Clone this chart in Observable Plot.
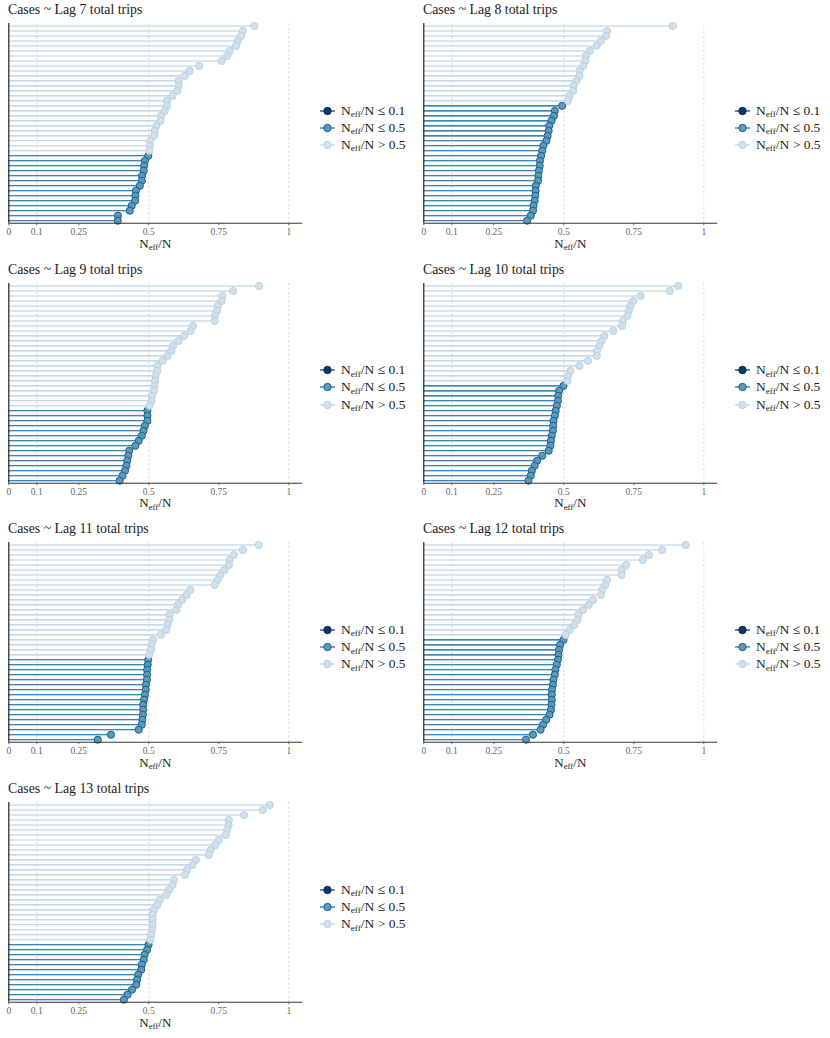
<!DOCTYPE html>
<html><head><meta charset="utf-8">
<script src="https://cdn.jsdelivr.net/npm/d3@7"></script>
<script src="https://cdn.jsdelivr.net/npm/@observablehq/plot@0.6"></script>
<style>
body{margin:0;background:#fff;font-family:'Liberation Serif','Times New Roman',serif;color:#1a1a1a;}
#root{position:relative;width:830px;height:1038px;overflow:hidden;}
.panel{position:absolute;width:415px;height:260px;}
.title{position:absolute;left:8px;top:2px;font-size:13.8px;white-space:nowrap;}
.plot{position:absolute;left:0;top:0;}
.xlab{position:absolute;left:8.3px;width:294px;top:235.5px;text-align:center;font-size:13px;white-space:nowrap;}
.legend{position:absolute;left:318px;top:101px;}
.li{position:absolute;left:0;height:17px;white-space:nowrap;font-size:13.5px;display:flex;align-items:center;}
.li svg{margin-right:5px;}
sub{font-size:0.68em;vertical-align:baseline;position:relative;top:0.28em;line-height:0;}
</style>
</head><body><div id="root"></div>
<script>
// ---- data (values read top-to-bottom, i.e. sorted descending) ----
const titles = ["Cases ~ Lag 7 total trips","Cases ~ Lag 8 total trips","Cases ~ Lag 9 total trips",
  "Cases ~ Lag 10 total trips","Cases ~ Lag 11 total trips","Cases ~ Lag 12 total trips","Cases ~ Lag 13 total trips"];
const lag7 = [0.877,0.836,0.830,0.818,0.811,0.789,0.780,0.760,0.680,0.646,0.629,0.607,0.606,0.602,0.585,0.565,0.565,0.557,0.544,0.542,
  0.527,0.521,0.519,0.505,0.504,0.502,0.498,0.486,0.483,0.482,0.476,0.475,0.468,0.454,0.452,0.451,0.439,0.432,0.390,0.389];
const lag8 = [0.889,0.654,0.651,0.632,0.617,0.593,0.579,0.577,0.569,0.556,0.556,0.545,0.535,0.533,0.520,0.515,0.494,0.468,0.465,0.456,
  0.448,0.446,0.442,0.438,0.427,0.423,0.419,0.415,0.414,0.411,0.409,0.408,0.400,0.399,0.398,0.396,0.392,0.390,0.382,0.369];
const lag9 = [0.894,0.801,0.763,0.760,0.746,0.744,0.736,0.735,0.658,0.649,0.626,0.606,0.586,0.580,0.567,0.549,0.531,0.530,0.524,0.523,
  0.520,0.518,0.511,0.510,0.502,0.495,0.495,0.495,0.486,0.481,0.475,0.464,0.452,0.430,0.427,0.423,0.420,0.415,0.406,0.396];
const lag10 = [0.908,0.879,0.774,0.748,0.738,0.732,0.727,0.711,0.708,0.677,0.645,0.635,0.627,0.619,0.618,0.586,0.556,0.524,0.515,0.513,
  0.499,0.483,0.480,0.479,0.475,0.471,0.468,0.463,0.462,0.461,0.457,0.454,0.452,0.446,0.423,0.405,0.396,0.386,0.382,0.374];
const lag11 = [0.893,0.836,0.804,0.789,0.786,0.770,0.756,0.746,0.735,0.648,0.635,0.619,0.604,0.598,0.574,0.573,0.567,0.562,0.543,0.515,
  0.510,0.508,0.501,0.498,0.496,0.494,0.494,0.493,0.490,0.489,0.486,0.483,0.480,0.480,0.479,0.477,0.475,0.464,0.365,0.318];
const lag12 = [0.935,0.851,0.804,0.782,0.723,0.707,0.706,0.655,0.648,0.637,0.633,0.604,0.589,0.568,0.552,0.549,0.537,0.521,0.507,0.499,
  0.487,0.483,0.481,0.479,0.475,0.470,0.468,0.463,0.461,0.458,0.457,0.457,0.456,0.454,0.449,0.437,0.426,0.417,0.390,0.365];
const lag13 = [0.932,0.907,0.840,0.786,0.785,0.780,0.775,0.750,0.738,0.721,0.714,0.668,0.656,0.637,0.629,0.590,0.585,0.573,0.563,0.539,
  0.531,0.518,0.514,0.514,0.513,0.512,0.508,0.506,0.499,0.494,0.485,0.482,0.475,0.473,0.462,0.458,0.455,0.440,0.424,0.411];
const series = [lag7, lag8, lag9, lag10, lag11, lag12, lag13];
const xTicks = [0, 0.1, 0.25, 0.5, 0.75, 1];
const refLines = [0.1, 0.5, 1];
const ratings = ["low","ok","high"];
const legendThresh = ["\u2264 0.1","\u2264 0.5","> 0.5"];
const fills = {low:"#03396c", ok:"#6497b1", high:"#d1e1ec"};
const strokes = {low:"#011f4b", ok:"#005b96", high:"#b3cde0"};

const rate = v => v <= 0.1 ? "low" : v <= 0.5 ? "ok" : "high";
const root = document.getElementById("root");
const FONT = "'Liberation Serif','Times New Roman',serif";

series.forEach((vals, k) => {
  const col = k % 2, row = Math.floor(k / 2);
  const panel = document.createElement("div");
  panel.className = "panel";
  panel.style.left = (415 * col) + "px";
  panel.style.top = (259.7 * row) + "px";
  root.appendChild(panel);

  const n = vals.length;
  const data = vals.map((v, i) => ({param: "p" + (n - i), idx: n - 1 - i, value: v, rating: rate(v)}));

  const marks = [
    Plot.ruleX(refLines, {stroke: "#c8c8c8", strokeWidth: 0.7, strokeDasharray: "2.2,2.2"})
  ];
  ratings.forEach(r => {
    const sub = data.filter(d => d.rating === r);
    marks.push(Plot.ruleY(sub, {y: "idx", x1: 0, x2: "value", stroke: strokes[r], strokeWidth: 1.1}));
  });
  ratings.forEach(r => {
    const sub = data.filter(d => d.rating === r);
    marks.push(Plot.dot(sub, {x: "value", y: "idx", r: 3.6, fill: fills[r], stroke: strokes[r], strokeWidth: 0.9}));
  });
  marks.push(Plot.ruleX([0], {stroke: "#111", strokeWidth: 1.1}));
  marks.push(Plot.ruleY([-0.5], {stroke: "#333", strokeWidth: 1.1}));
  marks.push(Plot.axisX(xTicks, {tickSize: 2.5, tickPadding: 2.5, fontSize: 9.5, color: "#666", tickFormat: d => String(d), label: null}));

  const svg = Plot.plot({
    width: 310, height: 258,
    marginLeft: 8.3, marginRight: 7.7, marginTop: 23, marginBottom: 35.3,
    x: {domain: [0, 1.05]},
    y: {domain: [-0.5, n - 0.5], axis: null},
    style: {fontFamily: FONT, background: "transparent", overflow: "visible"},
    marks
  });
  svg.classList.add("plot");
  panel.appendChild(svg);

  const t = document.createElement("div");
  t.className = "title"; t.textContent = titles[k];
  panel.appendChild(t);

  const xl = document.createElement("div");
  xl.className = "xlab"; xl.innerHTML = "N<sub>eff</sub>/N";
  panel.appendChild(xl);

  const lg = document.createElement("div");
  lg.className = "legend";
  ratings.forEach((r, j) => {
    const li = document.createElement("div");
    li.className = "li"; li.style.top = (1 + j * 17.2) + "px";
    li.innerHTML = `<svg width="18" height="12"><line x1="2" x2="17" y1="6" y2="6" stroke="${strokes[r]}" stroke-width="1.1"/>` +
      `<circle cx="9.5" cy="6" r="3.7" fill="${fills[r]}" stroke="${strokes[r]}" stroke-width="0.9"/></svg>` +
      `<span>N<sub>eff</sub>/N ${legendThresh[j]}</span>`;
    lg.appendChild(li);
  });
  panel.appendChild(lg);
});
</script></body></html>
